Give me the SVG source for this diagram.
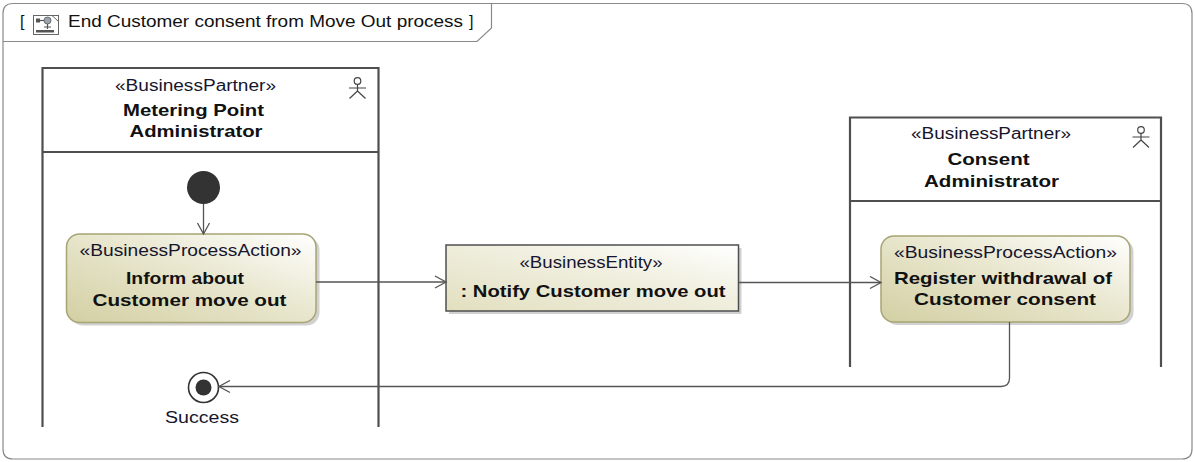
<svg xmlns="http://www.w3.org/2000/svg" width="1195" height="462" viewBox="0 0 1195 462">
<defs>
<linearGradient id="actGrad" x1="0" y1="1" x2="1" y2="0">
<stop offset="0" stop-color="#d3cfa3"/>
<stop offset="0.55" stop-color="#e9e7cf"/>
<stop offset="1" stop-color="#ffffff"/>
</linearGradient>
<linearGradient id="entGrad" x1="0" y1="1" x2="1" y2="0">
<stop offset="0" stop-color="#e2dfbf"/>
<stop offset="0.6" stop-color="#f1f0e1"/>
<stop offset="1" stop-color="#ffffff"/>
</linearGradient>
<marker id="open" markerUnits="userSpaceOnUse" markerWidth="14" markerHeight="14" viewBox="0 0 14 14" refX="12" refY="7" orient="auto">
<path d="M1,1 L12,7 L1,13" fill="none" stroke="#555" stroke-width="1.3"/>
</marker>
</defs>
<style>
.frame{fill:none;stroke:#8a8a8a;stroke-width:1.2}
.lane{fill:none;stroke:#4f4f4f;stroke-width:2.2}
.conn{fill:none;stroke:#555;stroke-width:1.3}
.act{fill:url(#actGrad);stroke:#a7a574;stroke-width:1.5}
.ent{fill:url(#entGrad);stroke:#4f4f4f;stroke-width:1.5}
.shadow{fill:#000;opacity:0.18}
.st{font-family:"Liberation Sans",Arial,sans-serif;font-size:16px;fill:#15152e;text-anchor:middle}
.nm{font-family:"Liberation Sans",Arial,sans-serif;font-size:17px;font-weight:bold;fill:#111;text-anchor:middle}
.tt{font-family:"Liberation Sans",Arial,sans-serif;font-size:16px;fill:#111}
.actor{fill:none;stroke:#444;stroke-width:1.2}
</style>

<g id="frame">
<path class="frame" d="M13,3.5 H1182 Q1192,3.5 1192,13.5 V449 Q1192,459 1182,459 H13 Q3,459 3,449 V13.5 Q3,3.5 13,3.5 Z"/>
<path class="frame" d="M3,41.5 H477 L491.5,28 V3.5"/>
<text class="tt" x="20" y="27">[</text>
<g id="frame-icon">
<rect x="33.5" y="15.5" width="25" height="19" fill="#fff" stroke="#666" stroke-width="1"/>
<path d="M52,15.5 L58.5,21.5" fill="none" stroke="#666" stroke-width="1"/>
<rect x="36" y="18.5" width="4" height="4" fill="#555"/>
<path d="M40,20.5 H44" stroke="#555" stroke-width="1.2" fill="none"/>
<circle cx="47.5" cy="20.5" r="3.5" fill="#9aa4b0" stroke="#555" stroke-width="0.8"/>
<path d="M47.5,24 V29 M44,27 H51" stroke="#555" stroke-width="1.2" fill="none"/>
<rect x="36" y="30" width="18" height="2.5" fill="#555"/>
</g>
<text class="tt" x="68" y="27" textLength="395" lengthAdjust="spacingAndGlyphs">End Customer consent from Move Out process</text>
<text class="tt" x="469" y="27">]</text>
</g>

<g id="lane-mpa">
<path class="lane" d="M42.5,427 V68 H378.5 V427"/>
<path class="lane" d="M42.5,152 H378.5"/>
<text class="st" x="195.5" y="90.5" textLength="161" lengthAdjust="spacingAndGlyphs">«BusinessPartner»</text>
<text class="nm" x="193.5" y="116" textLength="141" lengthAdjust="spacingAndGlyphs">Metering Point</text>
<text class="nm" x="196" y="137" textLength="133" lengthAdjust="spacingAndGlyphs">Administrator</text>
<g class="actor">
<circle cx="357.5" cy="81" r="3.3"/>
<path d="M357.5,84.3 V91 M349,88 H366 M357.5,91 L349.5,98.5 M357.5,91 L365.5,98.5"/>
</g>
</g>

<g id="lane-ca">
<path class="lane" d="M850,367 V117.5 H1161 V367"/>
<path class="lane" d="M850,201 H1161"/>
<text class="st" x="991" y="139" textLength="160" lengthAdjust="spacingAndGlyphs">«BusinessPartner»</text>
<text class="nm" x="988.5" y="165" textLength="82" lengthAdjust="spacingAndGlyphs">Consent</text>
<text class="nm" x="991.5" y="187" textLength="135" lengthAdjust="spacingAndGlyphs">Administrator</text>
<g class="actor">
<circle cx="1141" cy="130" r="3.3"/>
<path d="M1141,133.3 V140 M1132.5,137 H1149.5 M1141,140 L1133,147.5 M1141,140 L1149,147.5"/>
</g>
</g>

<g id="initial">
<circle cx="203.5" cy="187.5" r="16.5" fill="#333"/>
</g>

<g id="action-inform">
<rect class="shadow" x="70" y="237" width="249.5" height="88.5" rx="13"/>
<rect class="act" x="66.5" y="234" width="249.5" height="88.5" rx="13"/>
<text class="st" x="190.5" y="256" textLength="222" lengthAdjust="spacingAndGlyphs">«BusinessProcessAction»</text>
<text class="nm" x="185" y="284" textLength="118" lengthAdjust="spacingAndGlyphs">Inform about</text>
<text class="nm" x="189.5" y="306" textLength="194" lengthAdjust="spacingAndGlyphs">Customer move out</text>
</g>

<g id="entity-notify">
<rect class="shadow" x="449" y="248" width="292.5" height="66"/>
<rect class="ent" x="446" y="245" width="292.5" height="66"/>
<text class="st" x="591" y="268" textLength="143" lengthAdjust="spacingAndGlyphs">«BusinessEntity»</text>
<text class="nm" x="593" y="297" textLength="265" lengthAdjust="spacingAndGlyphs">: Notify Customer move out</text>
</g>

<g id="action-register">
<rect class="shadow" x="884.5" y="239" width="249" height="86" rx="13"/>
<rect class="act" x="881" y="236" width="249" height="86" rx="13"/>
<text class="st" x="1005.5" y="258" textLength="223" lengthAdjust="spacingAndGlyphs">«BusinessProcessAction»</text>
<text class="nm" x="1003" y="284" textLength="218" lengthAdjust="spacingAndGlyphs">Register withdrawal of</text>
<text class="nm" x="1005" y="305" textLength="182" lengthAdjust="spacingAndGlyphs">Customer consent</text>
</g>

<g id="final-success">
<circle cx="203.5" cy="387.5" r="15" fill="#fff" stroke="#333" stroke-width="1.6"/>
<circle cx="203.5" cy="387.5" r="8" fill="#333"/>
<text class="st" x="202" y="423" textLength="74" lengthAdjust="spacingAndGlyphs" fill="#111">Success</text>
</g>

<g id="connectors">
<path class="conn" d="M203.5,204 V234" marker-end="url(#open)"/>
<path class="conn" d="M316,282 H446" marker-end="url(#open)"/>
<path class="conn" d="M738.5,282.5 H881" marker-end="url(#open)"/>
<path class="conn" d="M1009.5,322 V378 Q1009.5,386.5 1001,386.5 H219" marker-end="url(#open)"/>
</g>
</svg>
